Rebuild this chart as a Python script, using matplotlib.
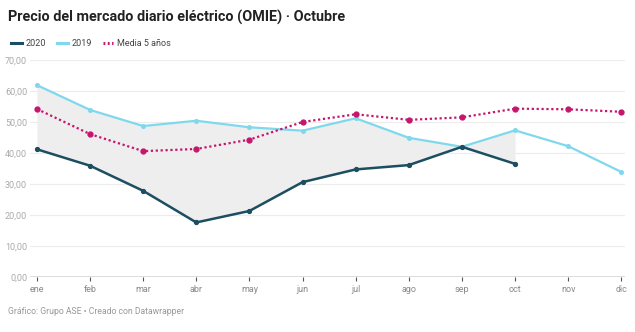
import matplotlib.pyplot as plt
from matplotlib.lines import Line2D

plt.rcParams['font.family'] = ['Roboto', 'DejaVu Sans']

months = ['ene', 'feb', 'mar', 'abr', 'may', 'jun', 'jul', 'ago', 'sep', 'oct', 'nov', 'dic']
precio_2020 = [41.2, 35.9, 27.8, 17.6, 21.3, 30.6, 34.7, 36.1, 42.0, 36.5]
precio_2019 = [61.9, 53.9, 48.7, 50.4, 48.3, 47.2, 51.2, 44.9, 42.0, 47.3, 42.2, 33.9]
media_5 = [54.2, 46.1, 40.6, 41.3, 44.3, 50.0, 52.5, 50.7, 51.5, 54.3, 54.1, 53.3]
yticks = [0, 10, 20, 30, 40, 50, 60, 70]

c2020 = '#1c4e62'
c2019 = '#7fd8ec'
cmedia = '#c5166d'

fig = plt.figure(figsize=(6.35, 3.32), dpi=100)
ax = fig.add_axes([30 / 635, 1 - 277 / 332, 595 / 635, 217 / 332])

x = list(range(len(months)))
n = len(precio_2020)
# shaded gap between 2019 and 2020
ax.fill_between(x[:n], precio_2020, precio_2019[:n], color='#eeeeee', lw=0, zorder=1)

ax.plot(x, precio_2019, color=c2019, lw=1.6, marker='o', ms=2.6, zorder=3)
ax.plot(x, media_5, color=cmedia, lw=1.6, ls=(0, (1, 1.2)), marker='o', ms=3.5, zorder=4)
ax.plot(x[:n], precio_2020, color=c2020, lw=1.8, marker='o', ms=2.8, zorder=5)

ax.set_xlim(-0.13, 11.07)
ax.set_ylim(0, 70)
ax.set_yticks(yticks)
ax.set_yticklabels(['%d,00' % v for v in yticks])
ax.set_xticks(x)
ax.set_xticklabels(months)
for v in yticks[1:]:
    ax.axhline(v, color='#ececec', lw=0.8, zorder=0)
ax.axhline(0, color='#555555', lw=1, zorder=2)

for s in ax.spines.values():
    s.set_visible(False)
ax.tick_params(axis='y', length=0, pad=2, labelsize=6.5, labelcolor='#aaaaaa')
ax.tick_params(axis='x', length=3, width=0.8, color='#555555', pad=3, labelsize=6.5, labelcolor='#888888')

fig.text(8 / 635, 1 - 17 / 332, 'Precio del mercado diario eléctrico (OMIE) · Octubre',
         fontsize=10.4, fontweight='bold', color='#222222', va='center', ha='left')

handles = [Line2D([], [], color=c2020, lw=2.2),
           Line2D([], [], color=c2019, lw=2.2),
           Line2D([], [], color=cmedia, lw=2.2, ls=(0, (0.6, 0.8)))]
fig.legend(handles, ['2020', '2019', 'Media 5 años'], loc='center left',
           bbox_to_anchor=(3 / 635, 1 - 44 / 332), ncol=3, frameon=False,
           fontsize=6.5, handlelength=1.2, handletextpad=0.4, columnspacing=1.2,
           labelcolor='#444444')

fig.text(8 / 635, 1 - 311 / 332, 'Gráfico: Grupo ASE • Creado con Datawrapper',
         fontsize=6.2, color='#999999', va='center', ha='left')

fig.savefig('out.png', dpi=100, facecolor='white')
